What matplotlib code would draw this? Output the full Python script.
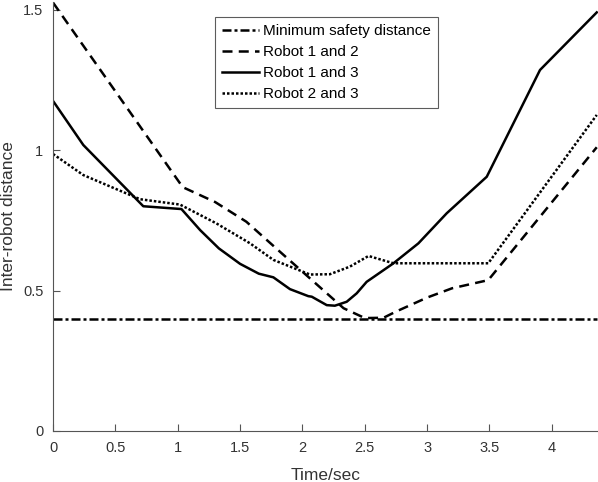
import matplotlib
matplotlib.use("Agg")
import matplotlib.pyplot as plt

plt.rcParams['font.family'] = ['Liberation Sans', 'DejaVu Sans']

safety_t = [0.0, 4.36]
safety_d = [0.4, 0.4]

r12_t = [0.0, 1.04, 1.3, 1.55, 1.82, 2.33, 2.5, 2.65, 2.75, 3.0, 3.2, 3.49, 4.36]
r12_d = [1.525, 0.868, 0.815, 0.745, 0.638, 0.437, 0.402, 0.403, 0.425, 0.475, 0.508, 0.537, 1.01]

r13_t = [0.0, 0.243, 0.724, 1.03, 1.18, 1.33, 1.5, 1.65, 1.767, 1.9, 2.047, 2.075, 2.195,
         2.26, 2.355, 2.435, 2.515, 2.73, 2.93, 3.157, 3.478, 3.905, 4.36]
r13_d = [1.175, 1.018, 0.80, 0.79, 0.715, 0.65, 0.595, 0.56, 0.547, 0.505, 0.48, 0.478, 0.448,
         0.446, 0.46, 0.49, 0.531, 0.597, 0.668, 0.775, 0.905, 1.285, 1.49]

r23_t = [0.0, 0.243, 0.698, 1.018, 1.31, 1.58, 1.767, 2.06, 2.22, 2.38, 2.53, 2.73, 3.49, 4.36]
r23_d = [0.986, 0.911, 0.825, 0.806, 0.739, 0.668, 0.609, 0.557, 0.558, 0.585, 0.623, 0.597, 0.597, 1.125]

xticks = [0, 0.5, 1, 1.5, 2, 2.5, 3, 3.5, 4]
xticklabels = ['0', '0.5', '1', '1.5', '2', '2.5', '3', '3.5', '4']
yticks = [0, 0.5, 1, 1.5]
yticklabels = ['0', '0.5', '1', '1.5']

fig = plt.figure(figsize=(5.98, 4.82), dpi=100)
ax = fig.add_axes([53/598, 51/482, 545/598, 429/482])

lw = 1.8
ax.plot(safety_t, safety_d, color='black', linestyle=(0, (3.6, 1.2, 1.2, 1.2)), lw=lw,
        label='Minimum safety distance')
ax.plot(r12_t, r12_d, color='black', linestyle=(0, (4, 2.5)), lw=lw, label='Robot 1 and 2')
ax.plot(r13_t, r13_d, color='black', linestyle='-', lw=lw, label='Robot 1 and 3')
ax.plot(r23_t, r23_d, color='black', linestyle=(0, (1, 0.8)), lw=lw, label='Robot 2 and 3')

ax.set_xlim(0, 4.37)
ax.set_ylim(0, 1.527)
ax.set_xticks(xticks)
ax.set_xticklabels(xticklabels)
ax.set_yticks(yticks)
ax.set_yticklabels(yticklabels)

for s in ['top', 'right']:
    ax.spines[s].set_visible(False)
for s in ['left', 'bottom']:
    ax.spines[s].set_color('#555555')
    ax.spines[s].set_linewidth(0.8)
ax.tick_params(direction='in', length=5, width=0.8, colors='#555555', labelcolor='#333333',
               labelsize=10.5, pad=7)

ax.set_xlabel('Time/sec', fontsize=12.5, color='#333333')
ax.xaxis.set_label_coords(0.5, -0.086)
ax.set_ylabel('Inter-robot distance', fontsize=12.5, color='#333333')
ax.yaxis.set_label_coords(-0.081, 0.5)
ax.yaxis.label.set_verticalalignment('center')

leg = ax.legend(loc='upper left', bbox_to_anchor=(0.298, 0.964), fontsize=11,
                frameon=True, fancybox=False, edgecolor='#333333', handlelength=2.4,
                handletextpad=0.25, borderpad=0.45, labelspacing=0.45, borderaxespad=0)
leg.get_frame().set_linewidth(0.8)

fig.savefig('out.png', dpi=100)
